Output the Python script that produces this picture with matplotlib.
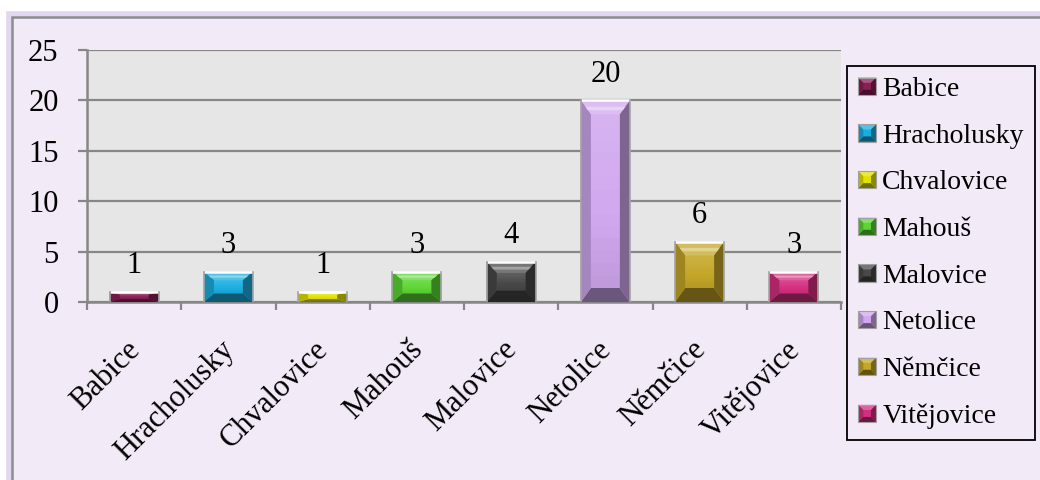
import matplotlib
matplotlib.use("Agg")
import matplotlib.pyplot as plt
import matplotlib.colors as mcolors
import matplotlib.transforms as mtransforms
from matplotlib.patches import Rectangle, Polygon
import numpy as np

# ---------------- data ----------------
categories = ["Babice", "Hracholusky", "Chvalovice", "Mahouš", "Malovice",
              "Netolice", "Němčice", "Vitějovice"]
values = [1, 3, 1, 3, 4, 20, 6, 3]
bar_colors = ["#8A1E55", "#1AAEDF", "#E2E200", "#5CD634", "#484848",
              "#D0A8EE", "#C4A628", "#D42E80"]
y_ticks = [0, 5, 10, 15, 20, 25]

plt.rcParams['font.family'] = ['Liberation Serif', 'DejaVu Serif']

W, H = 1040, 480
fig = plt.figure(figsize=(W / 100, H / 100), dpi=100)
fig.patch.set_facecolor("white")

def fx(px):
    return px / W

def fy(py):
    return 1 - py / H

# ---------------- outer frame ----------------
glow = Rectangle((fx(9), fy(H + 20)), fx(W + 40), fy(14) - fy(H + 20),
                 transform=fig.transFigure, facecolor="none",
                 edgecolor="#E2D7F0", linewidth=4, zorder=0)
fig.add_artist(glow)
frame = Rectangle((fx(12), fy(H + 20)), fx(W + 40), fy(17) - fy(H + 20),
                  transform=fig.transFigure, facecolor="#F2EAF7",
                  edgecolor="#8C8C8C", linewidth=1.8, zorder=0)
fig.add_artist(frame)

# ---------------- axes ----------------
ax = fig.add_axes([fx(87), fy(302), fx(841) - fx(87), fy(50) - fy(302)])
ax.set_facecolor("#E6E6E6")
n = len(categories)
xpos = np.arange(n)
ax.set_xlim(-0.5, n - 0.5)
ax.set_ylim(0, 25)

grid_c = "#878787"
for s in ["top", "right"]:
    ax.spines[s].set_visible(False)
for s in ["left", "bottom"]:
    ax.spines[s].set_color(grid_c)
    ax.spines[s].set_linewidth(1.8)

ax.set_yticks(y_ticks)
ax.set_yticklabels([str(t) for t in y_ticks])
ax.yaxis.grid(True, color=grid_c, linewidth=1.6, zorder=0)
ax.set_axisbelow(True)
ax.tick_params(axis="y", length=6.5, width=1.6, color=grid_c,
               labelsize=22, pad=14)

ax.set_xticks(xpos)
ax.set_xticklabels(categories, rotation=45, ha="right", va="top",
                   rotation_mode="anchor")
ax.tick_params(axis="x", which="major", length=0, labelsize=22, pad=24)
ax.set_xticks(np.arange(n + 1) - 0.5, minor=True)
ax.tick_params(axis="x", which="minor", length=6, width=1.6, color=grid_c,
               direction="out")
shift = mtransforms.ScaledTranslation(-9 / 100, 0, fig.dpi_scale_trans)
for lbl in ax.get_xticklabels():
    lbl.set_transform(lbl.get_transform() + shift)

# ---------------- bars with bevel ----------------
bars = ax.bar(xpos, values, width=0.52, color=bar_colors,
              edgecolor="none", linewidth=0, zorder=2)

def shade(c, f):
    r, g, b = mcolors.to_rgb(c)
    if f >= 1:
        t = min(f - 1, 1)
        return (r + (1 - r) * t, g + (1 - g) * t, b + (1 - b) * t)
    return (r * f, g * f, b * f)

inv = ax.transData.inverted()
p0 = inv.transform((0, 0))
p1 = inv.transform((10, 14))
bev_x = p1[0] - p0[0]
bev_y = p1[1] - p0[1]

for b, c in zip(bars, bar_colors):
    x0 = b.get_x(); x1 = x0 + b.get_width()
    y0 = b.get_y(); y1 = y0 + b.get_height()
    dx = min(bev_x, (x1 - x0) * 0.3)
    dy = min(bev_y, (y1 - y0) * 0.28)
    xi0, xi1, yi0, yi1 = x0 + dx, x1 - dx, y0 + dy, y1 - dy
    # face gradient
    nb = 14
    hs = (yi1 - yi0) / nb
    for k in range(nb):
        t = k / (nb - 1)
        f = 0.92 + 0.2 * t
        ax.add_patch(Rectangle((xi0, yi0 + k * hs), xi1 - xi0, hs * 1.02,
                               facecolor=shade(c, f), edgecolor="none",
                               zorder=3))
    polys = [
        ([(x0, y1), (x1, y1), (xi1, yi1), (xi0, yi1)], shade(c, 1.25)),
        ([(x0, y0), (x1, y0), (xi1, yi0), (xi0, yi0)], shade(c, 0.52)),
        ([(x0, y0), (x0, y1), (xi0, yi1), (xi0, yi0)], shade(c, 0.8)),
        ([(x1, y0), (x1, y1), (xi1, yi1), (xi1, yi0)], shade(c, 0.6)),
    ]
    for pts, col in polys:
        ax.add_patch(Polygon(pts, closed=True, facecolor=col,
                             edgecolor="none", zorder=3))
    # bright stripe inside top bevel
    ax.add_patch(Polygon([(x0 + dx * 0.45, y1 - dy * 0.45),
                          (x1 - dx * 0.45, y1 - dy * 0.45),
                          (x1 - dx * 0.7, y1 - dy * 0.7),
                          (x0 + dx * 0.7, y1 - dy * 0.7)], closed=True,
                         facecolor=shade(c, 1.5), edgecolor="none", zorder=3))
    # outline: white top edge, gray sides
    ax.plot([x0, x1], [y1, y1], color="white", linewidth=1.8, zorder=4,
            solid_capstyle="butt")
    ax.plot([x0, x0], [y0, y1], color="#A4A4A4", linewidth=1.2, zorder=4)
    ax.plot([x1, x1], [y0, y1], color="#A4A4A4", linewidth=1.2, zorder=4)

for xp, v in zip(xpos, values):
    ax.annotate(str(v), (xp, v), xytext=(0, 13.5), textcoords="offset points",
                ha="center", va="baseline", fontsize=22, color="black")

# ---------------- legend ----------------
class BevelHandler:
    def __init__(self, color):
        self.color = color

    def legend_artist(self, legend, orig_handle, fontsize, handlebox):
        x0, y0 = -handlebox.xdescent, -handlebox.ydescent
        w, h = handlebox.width, handlebox.height
        x1, y1 = x0 + w, y0 + h
        d = min(w, h) * 0.3
        c = self.color
        tr = handlebox.get_transform()
        xi0, xi1, yi0, yi1 = x0 + d, x1 - d, y0 + d, y1 - d
        items = [
            ([(x0, y0), (x1, y0), (x1, y1), (x0, y1)], shade(c, 1.0)),
            ([(x0, y1), (x1, y1), (xi1, yi1), (xi0, yi1)], shade(c, 1.25)),
            ([(x0, y0), (x1, y0), (xi1, yi0), (xi0, yi0)], shade(c, 0.5)),
            ([(x0, y0), (x0, y1), (xi0, yi1), (xi0, yi0)], shade(c, 0.8)),
            ([(x1, y0), (x1, y1), (xi1, yi1), (xi1, yi0)], shade(c, 0.6)),
        ]
        art = None
        for pts, col in items:
            p = Polygon(pts, closed=True, facecolor=col, edgecolor="none",
                        transform=tr)
            handlebox.add_artist(p)
            art = p
        edge = Rectangle((x0, y0), w, h, facecolor="none",
                         edgecolor="#A0A0A0", linewidth=0.8, transform=tr)
        handlebox.add_artist(edge)
        return art

handler_map = {b: BevelHandler(c) for b, c in zip(bars, bar_colors)}
leg = fig.legend(list(bars), categories, loc="upper left",
                 bbox_to_anchor=(fx(847), fy(66)), borderaxespad=0,
                 fontsize=20, frameon=True, fancybox=False,
                 handlelength=0.65, handleheight=0.58, handletextpad=0.22,
                 labelspacing=0.78, borderpad=0.4, handler_map=handler_map)
leg.get_frame().set_facecolor("#F2EAF7")
leg.get_frame().set_edgecolor("black")
leg.get_frame().set_linewidth(1.3)
leg.get_frame().set_alpha(None)

fig.savefig("out.png", dpi=100, facecolor=fig.get_facecolor())
